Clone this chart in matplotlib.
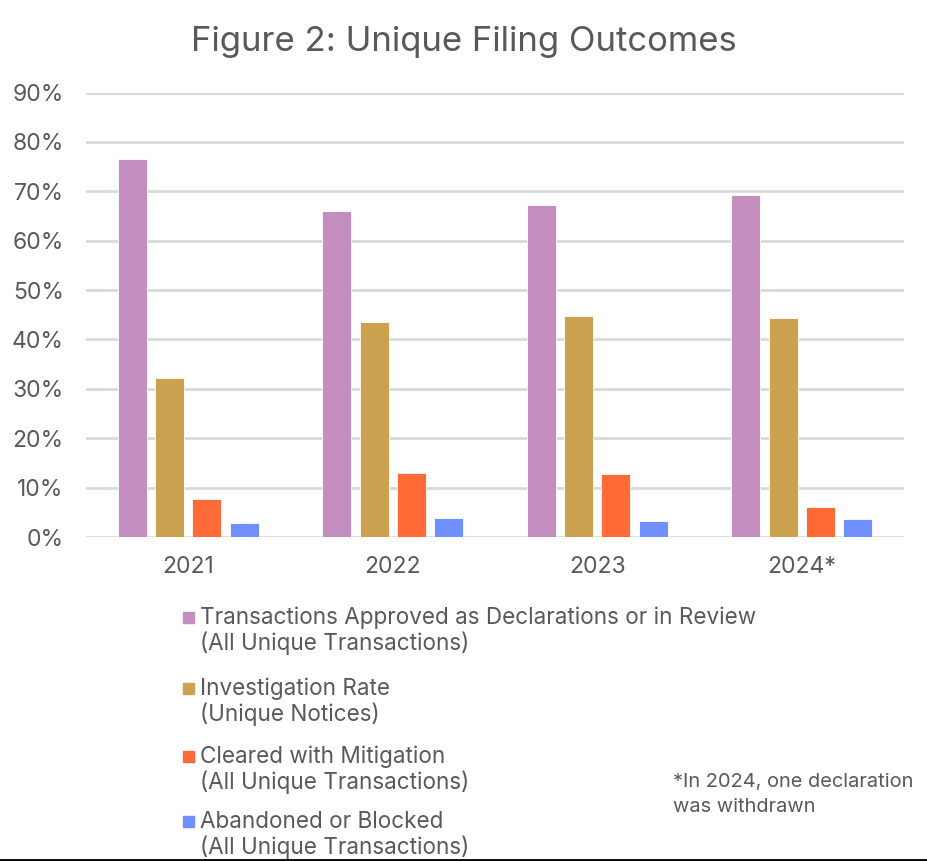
import numpy as np
import matplotlib
matplotlib.use("Agg")
import matplotlib.pyplot as plt
from matplotlib.patches import Rectangle
from matplotlib.lines import Line2D

plt.rcParams['font.family'] = ['Inter', 'DejaVu Sans']

years = ['2021', '2022', '2023', '2024*']
series_names = [
    'Transactions Approved as Declarations or in Review\n(All Unique Transactions)',
    'Investigation Rate\n(Unique Notices)',
    'Cleared with Mitigation\n(All Unique Transactions)',
    'Abandoned or Blocked\n(All Unique Transactions)',
]
approved = [76.5, 66.1, 67.3, 69.2]
investigation = [32.1, 43.5, 44.8, 44.3]
mitigation = [7.6, 12.9, 12.7, 6.1]
abandoned = [2.8, 3.8, 3.3, 3.6]
colors = ['#C48FBF', '#CBA350', '#FF6A36', '#7090FF']
footnote = '*In 2024, one declaration\nwas withdrawn'

text_color = '#595959'
grid_color = '#D9D9D9'

fig = plt.figure(figsize=(9.28, 8.61), dpi=100)
ax = fig.add_axes([0.0927, 0.3763, 0.9742 - 0.0927, 0.8925 - 0.3763])

x = np.arange(len(years))
pitch = 0.182
width = 0.142
all_series = [approved, investigation, mitigation, abandoned]
for i, (vals, col) in enumerate(zip(all_series, colors)):
    offset = (i - 1.5) * pitch
    ax.bar(x + offset, vals, width=width, color=col, edgecolor='white',
           linewidth=0.6, zorder=3)

ax.set_xlim(-0.5, 3.5)
ax.set_ylim(0, 90)
ax.set_yticks(np.arange(0, 91, 10))
ax.set_yticklabels(['%d%%' % v for v in range(0, 91, 10)])
ax.set_xticks(x)
ax.set_xticklabels(years)
ax.yaxis.grid(True, color=grid_color, linewidth=2, zorder=0)
ax.set_axisbelow(True)
for s in ['top', 'right', 'left', 'bottom']:
    ax.spines[s].set_visible(False)
ax.tick_params(axis='y', length=0, labelsize=16.5, colors=text_color, pad=16)
ax.tick_params(axis='x', length=0, labelsize=16.5, colors=text_color, pad=14)

fig.text(0.5, 0.951, 'Figure 2: Unique Filing Outcomes', ha='center', va='center',
         fontsize=25, color=text_color)

# legend drawn by hand so the swatch sits on the first line
leg_top = [617, 688, 756, 821]
for name, col, ytop in zip(series_names, colors, leg_top):
    yf = 1 - ytop / 861
    fig.patches.append(Rectangle((183 / 928, yf - 5.5 / 861), 11 / 928, 11 / 861,
                                 transform=fig.transFigure, color=col))
    fig.text(200 / 928, 1 - (ytop + 14) / 861, name, ha='left', va='center',
             fontsize=16.2, color=text_color, linespacing=1.15)

fig.text(673 / 928, 1 - 794.5 / 861, footnote, ha='left', va='center', fontsize=14.4,
         color=text_color, linespacing=1.45)

fig.lines.append(Line2D([0, 1], [1 - 859.5 / 861] * 2, transform=fig.transFigure,
                        color='black', linewidth=2))

fig.savefig('out.png', dpi=100)
